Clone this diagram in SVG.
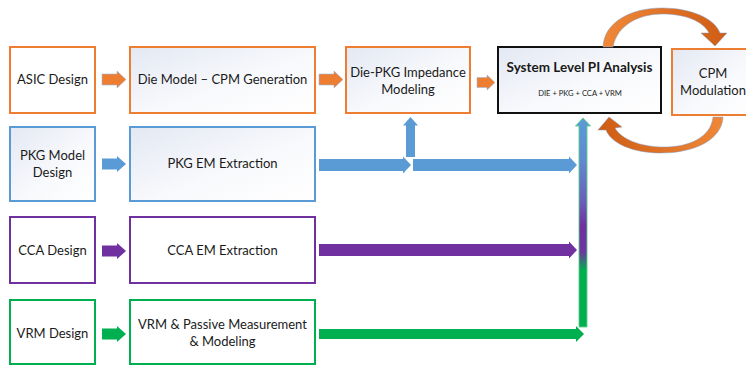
<svg xmlns="http://www.w3.org/2000/svg" width="746" height="366" viewBox="0 0 746 366">
  <defs>
    <linearGradient id="boxShade" x1="0" y1="0" x2="1" y2="1">
      <stop offset="0" stop-color="#e3e8f3"/>
      <stop offset="0.55" stop-color="#f8f9fc"/>
      <stop offset="1" stop-color="#ffffff"/>
    </linearGradient>
    <linearGradient id="mergeFill" gradientUnits="userSpaceOnUse" x1="0" y1="118" x2="0" y2="327">
      <stop offset="0" stop-color="#5b9bd5"/>
      <stop offset="0.2" stop-color="#5f8ad0"/>
      <stop offset="0.4" stop-color="#6a5fb8"/>
      <stop offset="0.52" stop-color="#7030a0"/>
      <stop offset="0.64" stop-color="#6d36a0"/>
      <stop offset="0.73" stop-color="#00b050"/>
      <stop offset="1" stop-color="#00b050"/>
    </linearGradient>
    <linearGradient id="loopTop" gradientUnits="userSpaceOnUse" x1="603" y1="0" x2="728" y2="0">
      <stop offset="0" stop-color="#f08838"/>
      <stop offset="1" stop-color="#cf5c14"/>
    </linearGradient>
    <linearGradient id="loopBottom" gradientUnits="userSpaceOnUse" x1="724" y1="0" x2="598" y2="0">
      <stop offset="0" stop-color="#f08838"/>
      <stop offset="1" stop-color="#cf5c14"/>
    </linearGradient>
  </defs>
  <style>
    .box { stroke-width: 2; }
    .orange { stroke: #ed7d31; }
    .blue { stroke: #5b9bd5; }
    .purple { stroke: #7030a0; }
    .green { stroke: #00b050; }
    .black { stroke: #111111; }
    .plain { fill: #ffffff; }
    .shade { fill: url(#boxShade); }
    .lbl { font-family: Lato, "Open Sans", "Liberation Sans", sans-serif; font-size: 13px; fill: #1a1a1a; text-anchor: middle; }
    .title { font-weight: bold; font-size: 13.5px; }
    .small { font-size: 7.6px; }
    .fo { fill: #ed7d31; stroke: #9db8dc; stroke-width: 0.6; }
    .fb { fill: #5b9bd5; }
    .fp { fill: #7030a0; }
    .fg { fill: #00b050; }
    .loop { stroke: #7e9cc6; stroke-width: 0.7; stroke-opacity: 0.7; }
  </style>

  <!-- row 1: ASIC -->
  <g id="asic-design">
    <rect class="box orange plain" x="10" y="47" width="85" height="66"/>
    <text class="lbl" x="52.5" y="84">ASIC Design</text>
  </g>
  <g id="die-model">
    <rect class="box orange shade" x="130" y="47" width="185" height="66"/>
    <text class="lbl" x="222.5" y="84">Die Model – CPM Generation</text>
  </g>
  <g id="die-pkg-impedance">
    <rect class="box orange shade" x="346" y="47" width="124" height="66"/>
    <text class="lbl" x="408" y="77">Die-PKG Impedance</text>
    <text class="lbl" x="408" y="94">Modeling</text>
  </g>
  <g id="system-pi">
    <rect class="box black shade" x="498" y="47" width="163" height="66"/>
    <text class="lbl title" x="579.5" y="72">System Level PI Analysis</text>
    <text class="lbl small" x="580" y="96">DIE + PKG + CCA + VRM</text>
  </g>
  <g id="cpm-modulation">
    <rect class="box orange shade" x="672" y="49" width="84" height="66"/>
    <text class="lbl" x="713" y="78">CPM</text>
    <text class="lbl" x="713" y="95">Modulation</text>
  </g>

  <!-- row 2: PKG -->
  <g id="pkg-model">
    <rect class="box blue shade" x="10" y="127" width="85" height="74"/>
    <text class="lbl" x="52.5" y="160">PKG Model</text>
    <text class="lbl" x="52.5" y="177">Design</text>
  </g>
  <g id="pkg-em">
    <rect class="box blue shade" x="130" y="127" width="185" height="74"/>
    <text class="lbl" x="222.5" y="168">PKG EM Extraction</text>
  </g>

  <!-- row 3: CCA -->
  <g id="cca-design">
    <rect class="box purple plain" x="10" y="217" width="85" height="66"/>
    <text class="lbl" x="52.5" y="255">CCA Design</text>
  </g>
  <g id="cca-em">
    <rect class="box purple plain" x="130" y="217" width="185" height="66"/>
    <text class="lbl" x="222.5" y="255">CCA EM Extraction</text>
  </g>

  <!-- row 4: VRM -->
  <g id="vrm-design">
    <rect class="box green plain" x="10" y="300" width="85" height="64"/>
    <text class="lbl" x="52.5" y="338">VRM Design</text>
  </g>
  <g id="vrm-measurement">
    <rect class="box green plain" x="130" y="300" width="185" height="64"/>
    <text class="lbl" x="222.5" y="329">VRM &amp; Passive Measurement</text>
    <text class="lbl" x="222.5" y="346">&amp; Modeling</text>
  </g>

  <!-- connectors -->
  <g id="connectors">
    <!-- short block arrows -->
    <path class="fo" d="M102,74 H117 V71 L126,79.5 L117,88 V85 H102 Z"/>
    <path class="fo" d="M319,74 H334 V71 L343,79.5 L334,88 V85 H319 Z"/>
    <path class="fo" d="M477,77.5 H487 V75 L495,82.5 L487,90 V87.5 H477 Z"/>
    <path class="fb" d="M102,158.5 H117 V156 L126,164 L117,172 V169.5 H102 Z"/>
    <path class="fp" d="M102,245.5 H117 V243 L126,251 L117,259 V256.5 H102 Z"/>
    <path class="fg" d="M102,328.5 H117 V326 L126,334 L117,342 V339.5 H102 Z"/>

    <!-- PKG feed to impedance model and to system analysis -->
    <path class="fb" d="M319,159 H403 V156.5 L411,165 L403,173.5 V171 H319 Z"/>
    <path class="fb" d="M406,157 V125.5 H403 L410.5,117 L418,125.5 H415 V157 Z"/>
    <path class="fb" d="M413,159 H569 V156.5 L577,165 L569,173.5 V171 H413 Z"/>

    <!-- CCA and VRM feeds -->
    <path class="fp" d="M319,244 H569 V241.5 L577,250 L569,258.5 V256 H319 Z"/>
    <path class="fg" d="M319,329 H576 V326 L584,334 L576,342 V339 H319 Z"/>

    <!-- merged riser into system analysis -->
    <path d="M579,327 V126 H575.5 L583,118 L590.5,126 H587 V327 Z" fill="url(#mergeFill)" stroke="#5ccf8a" stroke-width="0.9"/>

    <!-- loop between analysis and CPM modulation -->
    <path class="loop" fill="url(#loopTop)" d="M603,47 C604,22 631,8 662,8 C692,8 715,19 720,33 L727,33 L715,46 L701,33 L709,33 C703,21 685,14 662,14 C639,14 617,25 613,47 Z"/>
    <path class="loop" fill="url(#loopBottom)" d="M723,117 C722,140 694,153 661,153 C632,153 611,143 606,130 L598,130 L609,117 L622,127 L615,128 C621,139 640,147 664,147 C690,147 711,137 713,117 Z"/>
  </g>
</svg>
